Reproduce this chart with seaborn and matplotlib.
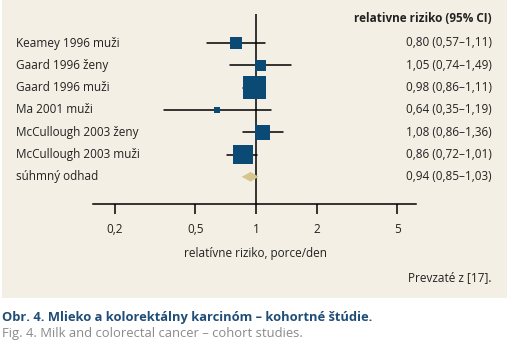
import matplotlib
matplotlib.use("Agg")
import matplotlib.pyplot as plt
import seaborn as sns
import pandas as pd
import numpy as np
from matplotlib.patches import Rectangle, Polygon

sns.set_theme(style="white")
plt.rcParams['font.family'] = ['Open Sans', 'DejaVu Sans']

studies = ["Keamey 1996 muži", "Gaard 1996 ženy", "Gaard 1996 muži", "Ma 2001 muži",
           "McCullough 2003 ženy", "McCullough 2003 muži"]
rr = [0.80, 1.05, 0.98, 0.64, 1.08, 0.86]
lo = [0.57, 0.74, 0.86, 0.35, 0.86, 0.72]
hi = [1.11, 1.49, 1.11, 1.19, 1.36, 1.01]
weight = [12, 11, 23, 6, 15, 19.5]  # square side (visual weight)
pooled_label = "súhmný odhad"
pooled = [0.94, 0.85, 1.03]
tick_vals = [0.2, 0.5, 1, 2, 5]
tick_labels = ["0,2", "0,5", "1", "2", "5"]

def fmt(v):
    return f"{v:.2f}".replace(".", ",")

W, H = 509, 346
BG = "#f4efe4"
NAVY = "#0b4a74"
TAN = "#d5c58f"

fig = plt.figure(figsize=(W/100, H/100), dpi=100)
fig.patch.set_facecolor("white")
fig.add_artist(Rectangle((2/W, 1-298/H), 505/W, 298/H, transform=fig.transFigure,
                         facecolor=BG, edgecolor="none", zorder=0))

def fy(p):
    return 1 - p/H

ax_left, ax_right = 93, 416
ax_top, ax_bot = 14, 204
ax = fig.add_axes([ax_left/W, fy(ax_bot), (ax_right-ax_left)/W, (ax_bot-ax_top)/H])
ax.set_facecolor("none")
ax.set_xscale("log")
scale = 202.0
x0 = 10**((ax_left-256)/scale)
x1 = 10**((ax_right-256)/scale)
ax.set_xlim(x0, x1)
row0, dy = 43, 22.3
ax.set_ylim((ax_bot-row0)/dy, (ax_top-row0)/dy)

df = pd.DataFrame({"study": studies, "rr": rr, "lo": lo, "hi": hi,
                   "y": np.arange(len(studies)), "w": weight})
for _, r in df.iterrows():
    ax.plot([r.lo, r.hi], [r.y, r.y], color="black", lw=1.1, zorder=2)
sizes = {s: (w*0.72)**2 for s, w in zip(studies, weight)}
sns.scatterplot(data=df, x="rr", y="y", hue="study", size="study", sizes=sizes,
                palette=[NAVY]*len(studies), marker="s", linewidth=0, legend=False,
                ax=ax, zorder=3)
py = len(studies)
ax.add_patch(Polygon([[pooled[1], py], [pooled[0], py-0.22], [pooled[2], py], [pooled[0], py+0.22]],
                     closed=True, facecolor=TAN, edgecolor="none", zorder=3))
ax.axvline(1, color="black", lw=1.1, zorder=1)

for s in ["top", "right", "left"]:
    ax.spines[s].set_visible(False)
ax.spines["bottom"].set_color("black")
ax.spines["bottom"].set_linewidth(1.1)
ax.set_yticks([])
ax.set_xticks(tick_vals)
ax.set_xticklabels(tick_labels)
ax.minorticks_off()
ax.tick_params(axis="x", direction="out", length=7, width=1.1, color="black",
               labelsize=8.5, pad=7, bottom=True, labelcolor="#222222")
ax.set_xlabel("")
ax.set_ylabel("")

tc = "#222222"
fs = 8.5
for i, s in enumerate(studies):
    fig.text(16/W, fy(row0 + i*dy), s, ha="left", va="center", fontsize=fs, color=tc)
    fig.text(492/W, fy(row0 + i*dy), f"{fmt(rr[i])} ({fmt(lo[i])}–{fmt(hi[i])})",
             ha="right", va="center", fontsize=fs, color=tc)
fig.text(16/W, fy(row0 + py*dy), pooled_label, ha="left", va="center", fontsize=fs, color=tc)
fig.text(492/W, fy(row0 + py*dy), f"{fmt(pooled[0])} ({fmt(pooled[1])}–{fmt(pooled[2])})",
         ha="right", va="center", fontsize=fs, color=tc)
fig.text(492/W, fy(19), "relativne riziko (95% CI)", ha="right", va="center",
         fontsize=fs, color=tc, fontweight="bold")
fig.text(256/W, fy(254), "relatívne riziko, porce/den", ha="center", va="center",
         fontsize=fs, color=tc)
fig.text(492/W, fy(278), "Prevzaté z [17].", ha="right", va="center", fontsize=fs, color=tc)
fig.text(2/W, fy(317), "Obr. 4. Mlieko a kolorektálny karcinóm – kohortné štúdie.",
         ha="left", va="center", fontsize=9.25, color="#1f4d78", fontweight="bold")
fig.text(2/W, fy(333), "Fig. 4. Milk and colorectal cancer – cohort studies.",
         ha="left", va="center", fontsize=9.4, color="#8a8a8a")

fig.savefig("out.png", dpi=100, facecolor="white")
